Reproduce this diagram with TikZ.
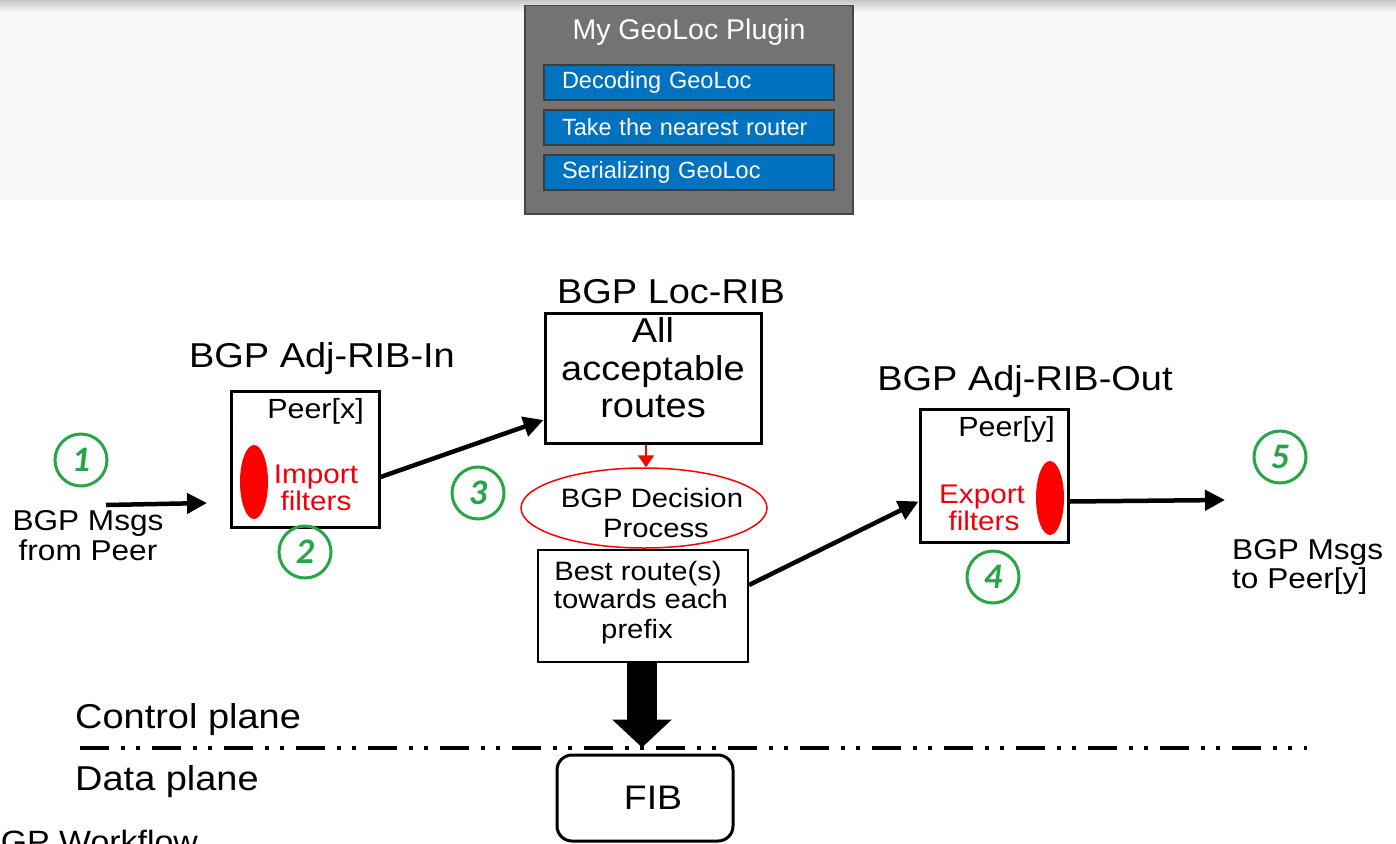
\documentclass[tikz,border=0pt]{standalone}
\usepackage{fontspec}
\setmainfont{Liberation Sans}
\newfontfamily\widesans[FakeStretch=1.1]{Liberation Sans}
\newfontfamily\stepfont{Carlito}
\usetikzlibrary{arrows.meta,shapes.geometric}

\definecolor{panelbg}{RGB}{249,249,249}
\definecolor{plugin}{RGB}{115,115,115}
\definecolor{pluginedge}{RGB}{70,70,70}
\definecolor{itemblue}{RGB}{0,114,192}
\definecolor{itemedge}{RGB}{60,60,60}
\definecolor{stepgreen}{RGB}{40,165,70}
\definecolor{filterred}{RGB}{238,0,12}

\newcommand\fsz[1]{\fontsize{#1}{#1}\selectfont}

\tikzset{
  lbl/.style={anchor=base, inner sep=0pt, font=\widesans\fsz{#1}},
  lbl/.default=34.5,
  redlbl/.style={lbl=27, text=filterred},
  frame/.style={draw=black, line width=3pt, inner sep=0pt},
  item/.style={draw=itemedge, line width=2pt, fill=itemblue, anchor=north west,
    minimum height=35pt, text width=254pt, inner xsep=18pt, inner ysep=0pt,
    align=left, text=white, font=\fsz{23.5}},
  stepnum/.style={circle, draw=stepgreen, line width=3pt, minimum size=52pt,
    inner sep=0pt, text=stepgreen, font=\stepfont\bfseries\itshape\fsz{36}},
  filterblob/.style={ellipse, fill=red, minimum width=28pt, minimum height=74pt, inner sep=0pt},
  flow/.style={line width=4.5pt, -{Triangle[length=20pt,width=20pt]}}
}

\begin{document}
\begin{tikzpicture}[x=1pt, y=-1pt]
\useasboundingbox (0,0) rectangle (1396,843);
\clip (0,0) rectangle (1396,843);

% header band with the plugin panel
\fill[panelbg] (0,0) rectangle (1396,200);
\shade[top color=black!22, bottom color=panelbg] (0,0) rectangle (1396,12);

\node[draw=pluginedge, line width=1.5pt, fill=plugin, anchor=north west,
  minimum width=328pt, minimum height=208pt, inner sep=0pt] (plugin) at (524,5) {};
\node[anchor=base, inner sep=0pt, text=white, font=\fsz{28.5}] (plugintitle) at (689,40) {My GeoLoc Plugin};
\node[item] (decode) at (543,64) {Decoding GeoLoc};
\node[item] (nearest) at (543,109) {Take the nearest router};
\node[item] (serialize) at (543,154) {Serializing GeoLoc};

% section titles
\node[lbl] (intitle) at (322,367) {BGP Adj-RIB-In};
\node[lbl] (loctitle) at (671,303) {BGP Loc-RIB};
\node[lbl] (outtitle) at (1025,390) {BGP Adj-RIB-Out};

% Adj-RIB-In
\node[frame, minimum width=148pt, minimum height=136pt] (inbox) at (305,459) {};
\node[lbl=27.7, anchor=base east] (peerx) at (364,418) {Peer[x]};
\node[filterblob] (importblob) at (254,482) {};
\node[redlbl] (importa) at (316,483) {Import};
\node[redlbl] (importb) at (316,510) {filters};

% Loc-RIB
\node[frame, minimum width=216pt, minimum height=130pt] (locrib) at (653,378) {};
\node[lbl] (loca) at (653,342) {All};
\node[lbl] (locb) at (653,380) {acceptable};
\node[lbl] (locc) at (653,417) {routes};

% decision process and best routes
\node[ellipse, draw=red, line width=1.5pt, minimum width=246pt, minimum height=80pt, inner sep=0pt] (decision) at (644,508) {};
\node[lbl=26.6] (deca) at (652,507) {BGP Decision};
\node[lbl=26.6] (decb) at (656,537) {Process};

\node[draw=black, line width=2pt, minimum width=210pt, minimum height=112pt, inner sep=0pt] (best) at (643,606) {};
\node[lbl=26.6] (besta) at (638,580) {Best route(s)};
\node[lbl=26.6] (bestb) at (641,608) {towards each};
\node[lbl=26.6] (bestc) at (637,638) {prefix};

% Adj-RIB-Out
\node[frame, minimum width=148pt, minimum height=133pt] (outbox) at (994,475.5) {};
\node[lbl=27.7, anchor=base east] (peery) at (1055,436) {Peer[y]};
\node[filterblob] (exportblob) at (1050,498) {};
\node[redlbl] (exporta) at (982,503) {Export};
\node[redlbl] (exportb) at (984,530) {filters};

% message endpoints
\node[lbl=28.7] (msgina) at (88,530) {BGP Msgs};
\node[lbl=28.7] (msginb) at (88,560) {from Peer};
\node[lbl=28.7, anchor=base west] (msgouta) at (1232,559) {BGP Msgs};
\node[lbl=28.7, anchor=base west] (msgoutb) at (1232,588) {to Peer[y]};
\coordinate (msgin) at (106,505);
\coordinate (msgintip) at (207,503);
\coordinate (msgouttip) at (1225,500);

% step markers
\node[stepnum] (s1) at (81,460) {1};
\node[stepnum] (s2) at (305,552) {2};
\node[stepnum] (s3) at (478,493) {3};
\node[stepnum] (s4) at (993,577) {4};
\node[stepnum] (s5) at (1280,457) {5};

% planes
\node[lbl, anchor=base west] (ctrl) at (75,728) {Control plane};
\node[lbl, anchor=base west] (data) at (75,790) {Data plane};
\node[lbl=30.8, anchor=base west] (wf) at (-22,852) {BGP Workflow};
\coordinate (planeL) at (80,748);
\coordinate (planeR) at (1307,748);
\draw[line width=4pt, dash pattern=on 29pt off 12pt on 4pt off 11pt on 4pt off 12pt] (planeL) -- (planeR);

\node[draw=black, line width=3pt, rounded corners=15pt, minimum width=176pt, minimum height=86pt, inner sep=0pt] (fib) at (645,798) {};
\node[lbl=34] (fibtext) at (653,809) {FIB};

% message flow
\draw[flow] (msgin) -- (msgintip);
\draw[flow] ([yshift=-18pt]inbox.east) -- ([yshift=-42pt]locrib.west);
\draw[red, line width=2pt, -{Triangle[length=12pt,width=16pt]}] ([xshift=-7pt]locrib.south) -- ([xshift=2pt]decision.north);
\draw[flow] ([yshift=21pt]best.east) -- ([yshift=-26pt]outbox.west);
\draw[flow] ([yshift=-26pt]outbox.east) -- (msgouttip);
\draw[line width=30pt, -{Triangle[length=28pt,width=58pt]}, shorten >=6pt] ([xshift=-1pt]best.south) -- ([xshift=-1pt]best.south |- fib.north);
\end{tikzpicture}
\end{document}
